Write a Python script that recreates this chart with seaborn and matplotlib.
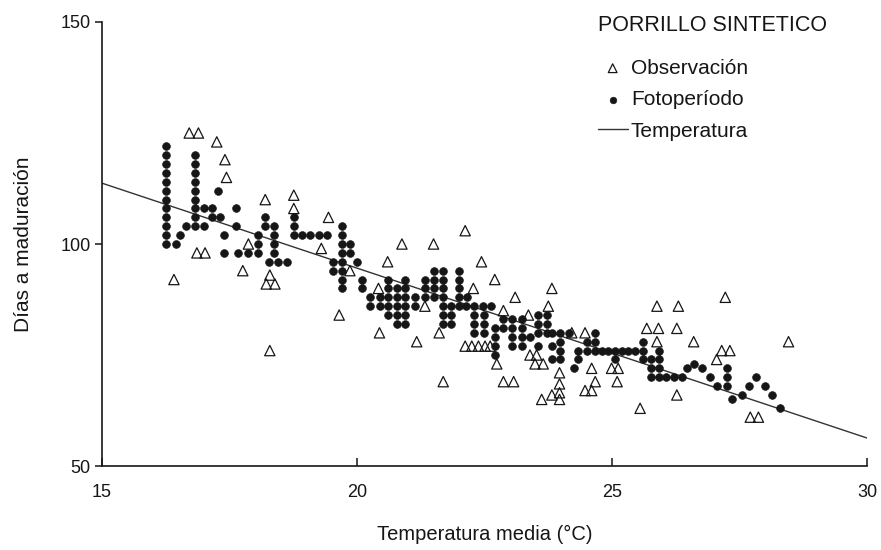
import matplotlib
matplotlib.use("Agg")
import matplotlib.pyplot as plt
import seaborn as sns
import pandas as pd

# Observed days to maturity vs. mean temperature
obs_temp = [16.41, 16.71, 16.89, 17.25, 17.41, 17.44, 16.86, 17.02, 17.87, 17.76,
            18.20, 18.29, 18.22, 18.39, 18.29, 18.76, 18.76, 19.44, 19.30, 19.86,
            19.65, 20.42, 20.44, 20.60, 20.88, 21.33, 21.17, 21.50, 21.61, 21.69,
            22.12, 22.44, 22.28, 22.12, 22.25, 22.38, 22.51, 22.61, 22.70, 22.74,
            22.87, 22.87, 23.07, 23.10, 23.36, 23.39, 23.52, 23.49, 23.65, 23.62,
            23.75, 23.82, 23.82, 23.97, 23.97, 23.97, 23.97, 24.21, 24.47, 24.47,
            24.60, 24.67, 24.60, 24.99, 25.12, 25.10, 25.55, 25.68, 25.91, 25.88,
            25.88, 26.27, 26.30, 26.27, 26.60, 27.05, 27.15, 27.31, 27.22, 27.71,
            27.87, 28.46]
obs_days = [92, 125, 125, 123, 119, 115, 98, 98, 100, 94,
            110, 93, 91, 91, 76, 111, 108, 106, 99, 94,
            84, 90, 80, 96, 100, 86, 78, 100, 80, 69,
            103, 96, 90, 77, 77, 77, 77, 77, 92, 73,
            85, 69, 69, 88, 84, 75, 75, 73, 73, 65,
            86, 90, 66, 71, 68.5, 66.5, 65, 80, 80, 67,
            67, 69, 72, 72, 72, 69, 63, 81, 81, 86,
            78, 81, 86, 66, 78, 74, 76, 76, 88, 61,
            61, 78]

# Days to maturity predicted from photoperiod
foto_temp = [16.25, 16.25, 16.25, 16.25, 16.25, 16.25, 16.25, 16.25, 16.25, 16.25, 16.25, 16.25,
             16.45, 16.53, 16.65,
             16.82, 16.82, 16.82, 16.82, 16.82, 16.82, 16.82, 16.82, 16.82,
             16.99, 16.99, 17.15, 17.15, 17.31, 17.28, 17.39, 17.39,
             17.63, 17.63, 17.67, 17.87, 18.05, 18.05, 18.05, 18.20, 18.20,
             18.38, 18.38, 18.38, 18.38, 18.28, 18.46, 18.63,
             18.76, 18.76, 18.76, 18.92, 19.08, 19.25, 19.41,
             19.52, 19.52,
             19.70, 19.70, 19.70, 19.70, 19.70, 19.70, 19.70, 19.70,
             19.86, 19.86, 20.00, 20.10, 20.10,
             20.25, 20.25, 20.45, 20.45,
             20.60, 20.60, 20.60, 20.60, 20.60,
             20.78, 20.78, 20.78, 20.78, 20.78,
             20.94, 20.94, 20.94, 20.94, 20.94, 20.94,
             21.14, 21.14, 21.33, 21.33, 21.33,
             21.50, 21.50, 21.50, 21.50,
             21.68, 21.68, 21.68, 21.68, 21.68, 21.68, 21.68,
             21.84, 21.84, 21.84,
             22.00, 22.00, 22.00, 22.00, 22.00,
             22.15, 22.13, 22.29, 22.46, 22.62,
             22.30, 22.30, 22.30, 22.48, 22.48, 22.48,
             22.70, 22.70, 22.70, 22.70,
             22.87, 22.87, 23.03, 23.03, 23.03, 23.03,
             23.23, 23.23, 23.23, 23.23, 23.39,
             23.55, 23.55, 23.55, 23.55, 23.72, 23.72, 23.72,
             23.82, 23.82, 23.82, 23.98, 23.98, 23.98, 23.98,
             24.15, 24.25, 24.34, 24.34, 24.50, 24.50, 24.67, 24.67, 24.67,
             24.80, 24.93, 25.06, 25.19, 25.32, 25.45, 25.06,
             25.60, 25.60, 25.60, 25.76, 25.76, 25.76,
             25.92, 25.92, 25.92, 25.92, 26.06, 26.21, 26.37,
             26.46, 26.61, 26.77, 26.92, 27.05, 27.25, 27.25, 27.25,
             27.36, 27.54, 27.69, 27.82, 27.99, 28.14, 28.29]
foto_days = [100, 102, 104, 106, 108, 110, 112, 114, 116, 118, 120, 122,
             100, 102, 104,
             104, 106, 108, 110, 112, 114, 116, 118, 120,
             108, 104, 108, 106, 106, 112, 102, 98,
             108, 104, 98, 98, 98, 100, 102, 106, 104,
             104, 102, 100, 98, 96, 96, 96,
             106, 104, 102, 102, 102, 102, 102,
             96, 94,
             104, 102, 100, 98, 96, 94, 92, 90,
             100, 98, 96, 92, 90,
             88, 86, 88, 86,
             92, 90, 88, 86, 84,
             90, 88, 86, 84, 82,
             92, 90, 88, 86, 84, 82,
             88, 86, 92, 90, 88,
             94, 92, 90, 88,
             94, 92, 90, 88, 86, 84, 82,
             86, 84, 82,
             94, 92, 90, 88, 86,
             88, 86, 86, 86, 86,
             84, 82, 80, 84, 82, 80,
             81, 79, 77, 75,
             83, 81, 83, 81, 79, 77,
             83, 81, 79, 77, 79,
             84, 82, 80, 77, 84, 82, 80,
             80, 77, 74, 80, 78, 76, 74,
             80, 72, 76, 74, 78, 76, 80, 78, 76,
             76, 76, 76, 76, 76, 76, 74,
             78, 76, 74, 74, 72, 70,
             76, 74, 72, 70, 70, 70, 70,
             72, 73, 72, 70, 68, 72, 70, 68,
             65, 66, 68, 70, 68, 66, 63]

# Temperature model line
line_temp = [15.0, 30.0]
line_days = [113.7, 56.3]

x_ticks = [15, 20, 25, 30]
y_ticks = [50, 100, 150]

sns.set_theme(style="white")
plt.rcParams["font.family"] = ["Liberation Sans", "DejaVu Sans"]

ink = "#161616"
fig = plt.figure(figsize=(8.81, 5.5), dpi=100)
ax = fig.add_axes([0.1158, 0.1527, 0.8684, 0.8073])

obs = pd.DataFrame({"t": obs_temp, "d": obs_days})
foto = pd.DataFrame({"t": foto_temp, "d": foto_days})
lin = pd.DataFrame({"t": line_temp, "d": line_days})

sns.lineplot(data=lin, x="t", y="d", ax=ax, color="#333333", linewidth=1.0,
             label="Temperatura", zorder=1)
sns.scatterplot(data=obs, x="t", y="d", ax=ax, marker="^", s=55,
                facecolor="none", edgecolor=ink, linewidth=0.9,
                label="Observación", zorder=3)
sns.scatterplot(data=foto, x="t", y="d", ax=ax, marker="o", s=32,
                color=ink, edgecolor=ink, linewidth=0.4,
                label="Fotoperíodo", zorder=2)

ax.set_xlim(15, 30)
ax.set_ylim(50, 150)
ax.set_xticks(x_ticks)
ax.set_yticks(y_ticks)
ax.tick_params(axis="x", direction="in", length=6, width=1.1, color=ink,
               labelsize=13, pad=13, labelcolor=ink)
ax.tick_params(axis="y", direction="out", length=5, width=1.1, color=ink,
               labelsize=13, pad=3, labelcolor=ink)
ax.tick_params(bottom=True, left=True)
for side in ("top", "right"):
    ax.spines[side].set_visible(False)
for side in ("left", "bottom"):
    ax.spines[side].set_color(ink)
    ax.spines[side].set_linewidth(1.2)

ax.set_xlabel("Temperatura media (°C)", fontsize=14.5, color=ink, labelpad=17)
ax.set_ylabel("Días a maduración", fontsize=15, color=ink, labelpad=20)

handles, labels = ax.get_legend_handles_labels()
order = [labels.index(n) for n in ("Observación", "Fotoperíodo", "Temperatura")]
leg = ax.legend([handles[i] for i in order], [labels[i] for i in order],
                title="PORRILLO SINTETICO", loc="upper left",
                bbox_to_anchor=(0.657, 1.006), bbox_transform=fig.transFigure,
                frameon=False, fontsize=15, title_fontsize=15.5,
                handlelength=1.45, handletextpad=0.15, labelspacing=0.6,
                markerscale=0.85)
leg._legend_box.align = "left"
leg._legend_box.sep = 16
for t in leg.get_texts():
    t.set_color(ink)
leg.get_title().set_color(ink)

fig.savefig("out.png", dpi=100, facecolor="white")
